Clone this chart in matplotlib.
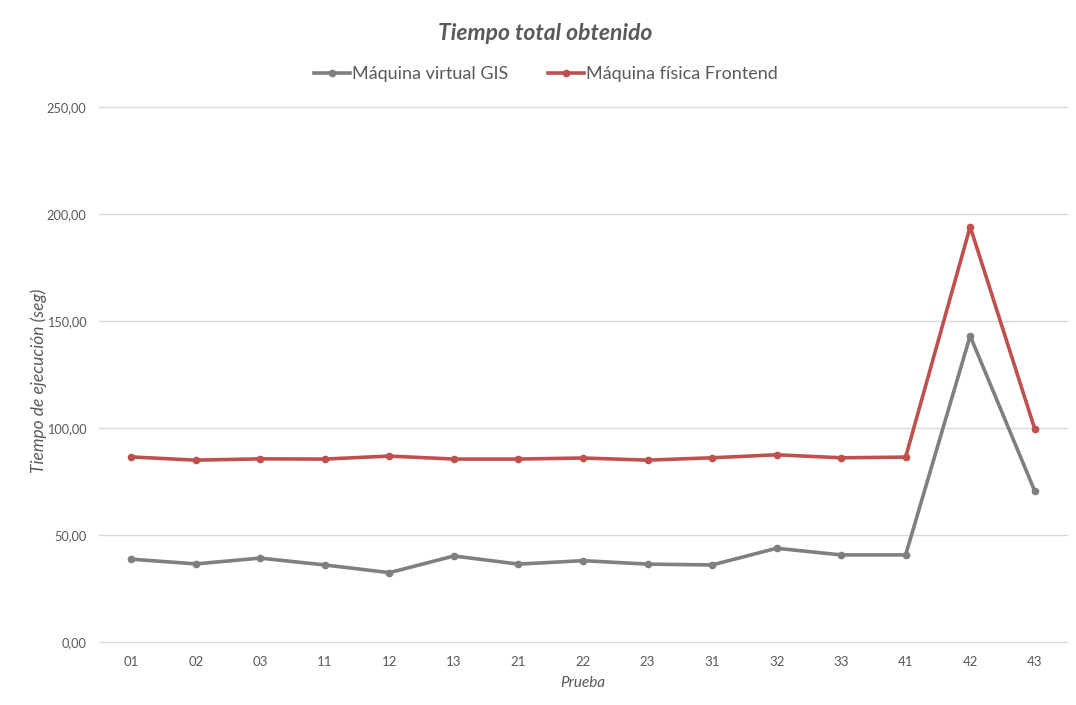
import matplotlib
matplotlib.use("Agg")
import matplotlib.pyplot as plt
from matplotlib.ticker import FuncFormatter, MultipleLocator

pruebas = ["01", "02", "03", "11", "12", "13", "21", "22", "23", "31", "32", "33", "41", "42", "43"]
virtual_gis = [38.7, 36.5, 39.2, 36.0, 32.4, 40.2, 36.4, 38.0, 36.4, 36.0, 43.8, 40.7, 40.7, 143.1, 70.6]
fisica_frontend = [86.5, 85.0, 85.6, 85.5, 86.9, 85.5, 85.5, 86.0, 85.0, 86.1, 87.5, 86.1, 86.4, 194.1, 99.7]

plt.rcParams["font.family"] = ["Lato", "DejaVu Sans"]
text_color = "#595959"

fig = plt.figure(figsize=(10.76, 7.05), dpi=100)
ax = fig.add_axes([0.092, 0.0894, 0.8996, 0.7586])

x = list(range(len(pruebas)))
ax.plot(x, virtual_gis, color="#7f7f7f", lw=2.6, marker="o", ms=4.5,
        label="Máquina virtual GIS", solid_joinstyle="round")
ax.plot(x, fisica_frontend, color="#c0504d", lw=2.6, marker="o", ms=4.5,
        label="Máquina física Frontend", solid_joinstyle="round")

ax.set_xlim(-0.5, len(pruebas) - 0.5)
ax.set_ylim(0, 250)
ax.yaxis.set_major_locator(MultipleLocator(50))
ax.yaxis.set_major_formatter(FuncFormatter(lambda v, p: f"{v:.2f}".replace(".", ",")))
ax.set_xticks(x)
ax.set_xticklabels(pruebas)

ax.grid(axis="y", color="#d9d9d9", lw=1)
for gl in ax.get_ygridlines():
    gl.set_clip_on(False)
ax.set_axisbelow(True)
for s in ax.spines.values():
    s.set_visible(False)
ax.tick_params(axis="both", length=0, labelsize=9.5, colors=text_color, pad=10)
ax.tick_params(axis="y", labelsize=9.2, pad=9)

ax.set_xlabel("Prueba", style="italic", color=text_color, fontsize=11, labelpad=6)
ax.set_ylabel("Tiempo de ejecución (seg)", style="italic", color=text_color, fontsize=12.5)
ax.yaxis.set_label_coords(-0.0535, 0.488)

fig.text(0.507, 0.953, "Tiempo total obtenido", ha="center", va="center",
         fontsize=16.5, fontweight="bold", style="italic", color=text_color)
leg = fig.legend(loc="center", bbox_to_anchor=(0.507, 0.895), ncol=2, frameon=False,
                 fontsize=13, handlelength=2.0, handletextpad=0.1, columnspacing=2.2)
for t in leg.get_texts():
    t.set_color(text_color)

fig.savefig("out.png", dpi=100)
